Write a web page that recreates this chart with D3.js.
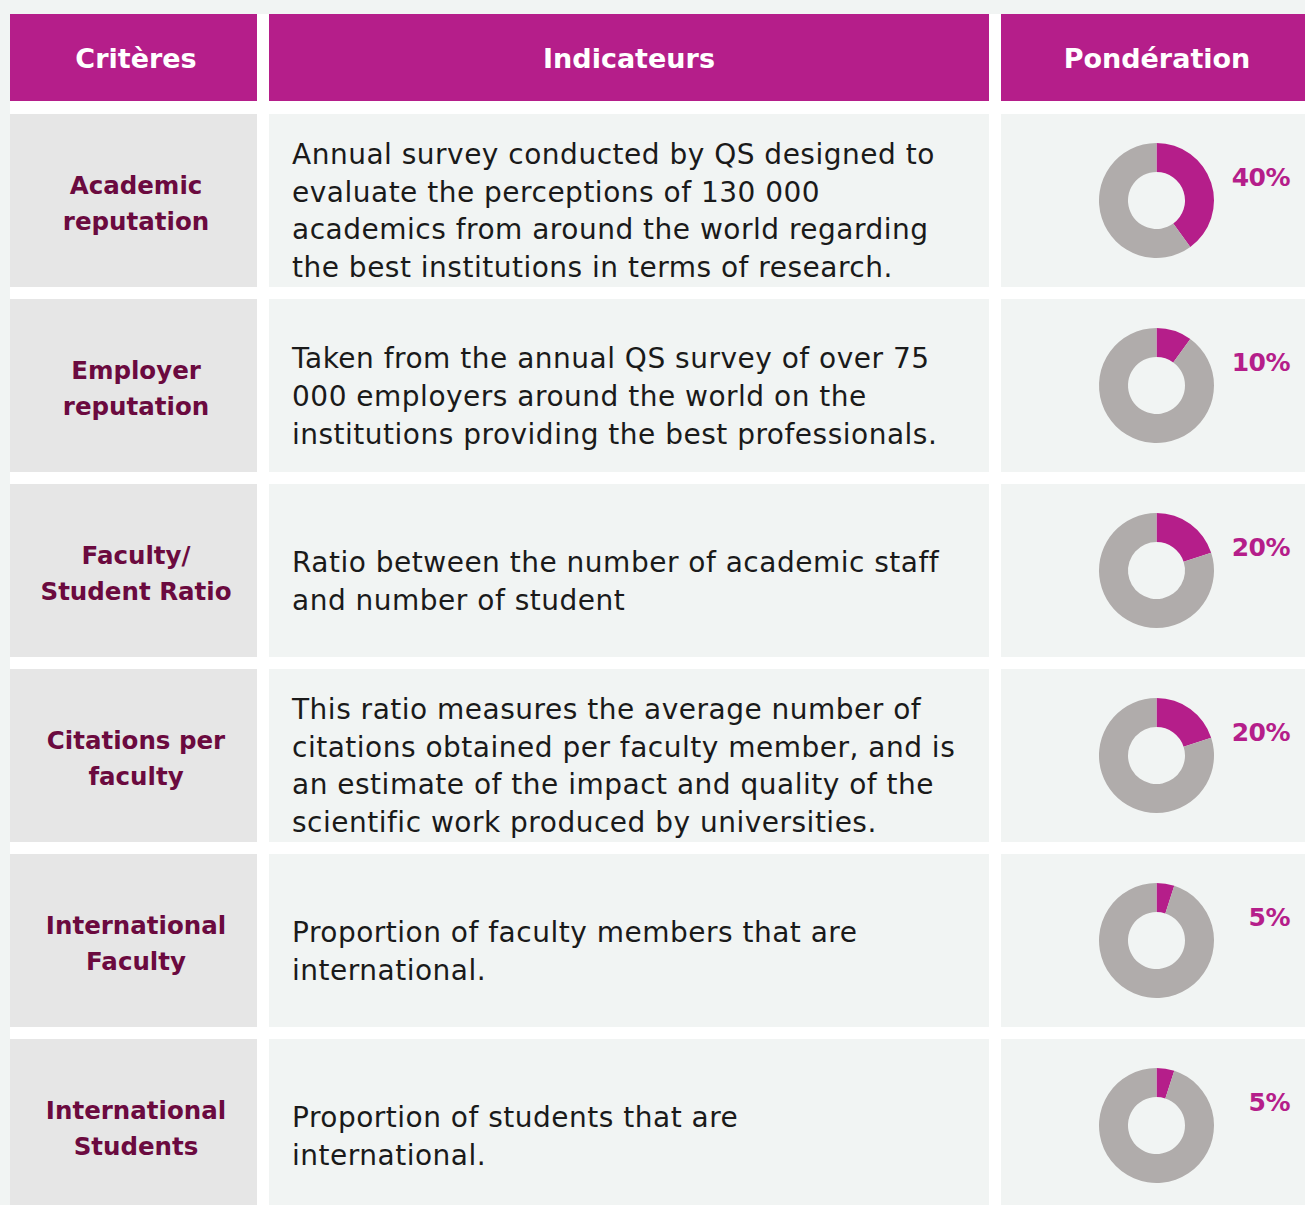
<!DOCTYPE html>
<html>
<head>
<meta charset="utf-8">
<script src="https://cdn.jsdelivr.net/npm/d3@7"></script>
<style>
  body { margin: 0; background: #f1f4f3; }
  svg { display: block; }
</style>
</head>
<body>
<svg id="chart" width="1305" height="1205"></svg>
<script>
// table content
const headers = ["Critères", "Indicateurs", "Pondération"];
const criteria = [
  ["Academic", "reputation"],
  ["Employer", "reputation"],
  ["Faculty/", "Student Ratio"],
  ["Citations per", "faculty"],
  ["International", "Faculty"],
  ["International", "Students"]
];
const indicators = [
  ["Annual survey conducted by QS designed to", "evaluate the perceptions of 130 000", "academics from around the world regarding", "the best institutions in terms of research."],
  ["Taken from the annual QS survey of over 75", "000 employers around the world on the", "institutions providing the best professionals."],
  ["Ratio between the number of academic staff", "and number of student"],
  ["This ratio measures the average number of", "citations obtained per faculty member, and is", "an estimate of the impact and quality of the", "scientific work produced by universities."],
  ["Proportion of faculty members that are", "international."],
  ["Proportion of students that are", "international."]
];
const weights = [40, 10, 20, 20, 5, 5];

const purple = "#b51e8a";
const maroon = "#6b0a3f";
const grey = "#b0acab";
const font = "'DejaVu Sans', sans-serif";

const svg = d3.select("#chart");

// white background of the table (the gaps between cells are white)
svg.append("rect")
  .attr("x", 10).attr("y", 14)
  .attr("width", 1295).attr("height", 1191)
  .attr("fill", "#ffffff");

// columns
const colX = [10, 269, 1001];
const colW = [247, 720, 312];
const textX = [136, 629, 1157];
const headerY = 14, headerH = 87;

// rows: 173px tall, 12px gap
const rowY = d3.scaleBand()
  .domain(d3.range(criteria.length))
  .range([114, 114 + 185 * criteria.length - 12])
  .paddingInner(12 / 185)
  .paddingOuter(0)
  .align(0);

// header
const head = svg.append("g");
head.selectAll("rect")
  .data(headers)
  .join("rect")
  .attr("x", (d, i) => colX[i])
  .attr("y", headerY)
  .attr("width", (d, i) => colW[i])
  .attr("height", headerH)
  .attr("fill", purple);

head.selectAll("text")
  .data(headers)
  .join("text")
  .attr("x", (d, i) => textX[i])
  .attr("y", headerY + headerH / 2 + 10)
  .attr("text-anchor", "middle")
  .attr("font-family", font)
  .attr("font-weight", "bold")
  .attr("font-size", 27)
  .attr("fill", "#ffffff")
  .text(d => d);

// body rows
const rows = svg.selectAll("g.row")
  .data(d3.range(criteria.length))
  .join("g")
  .attr("class", "row")
  .attr("transform", i => `translate(0,${rowY(i)})`);

const rh = rowY.bandwidth();

rows.append("rect")
  .attr("x", colX[0]).attr("width", colW[0]).attr("height", rh)
  .attr("fill", "#e6e6e6");
rows.append("rect")
  .attr("x", colX[1]).attr("width", colW[1]).attr("height", rh)
  .attr("fill", "#f1f4f3");
rows.append("rect")
  .attr("x", colX[2]).attr("width", colW[2]).attr("height", rh)
  .attr("fill", "#f1f4f3");

// criteria names
rows.append("text")
  .attr("font-family", font)
  .attr("font-weight", "bold")
  .attr("font-size", 24.5)
  .attr("fill", maroon)
  .attr("text-anchor", "middle")
  .each(function(i) {
    const lines = criteria[i];
    const lh = 36;
    const y0 = rh / 2 + 2 - (lines.length - 1) * lh / 2 + 9;
    d3.select(this).selectAll("tspan")
      .data(lines)
      .join("tspan")
      .attr("x", textX[0])
      .attr("y", (d, k) => y0 + k * lh)
      .text(d => d);
  });

// indicator descriptions
rows.append("text")
  .attr("font-family", font)
  .attr("font-size", 28)
  .attr("letter-spacing", 0.5)
  .attr("fill", "#1a1a1a")
  .each(function(i) {
    const lines = indicators[i];
    const lh = lines.length > 3 ? 37.5 : 38;
    const y0 = rh / 2 + 20 - (lines.length - 1) * lh / 2;
    d3.select(this).selectAll("tspan")
      .data(lines)
      .join("tspan")
      .attr("x", 292)
      .attr("y", (d, k) => y0 + k * lh)
      .text(d => d);
  });

// donuts
const pie = d3.pie().sort(null).value(d => d);
const arc = d3.arc().innerRadius(28.5).outerRadius(57.5);

rows.each(function(i) {
  const g = d3.select(this).append("g")
    .attr("transform", `translate(1156.5,${rh / 2})`);
  g.selectAll("path")
    .data(pie([weights[i], 100 - weights[i]]))
    .join("path")
    .attr("d", arc)
    .attr("fill", (d, k) => k === 0 ? purple : grey);
});

rows.append("text")
  .attr("x", 1290)
  .attr("y", 72)
  .attr("text-anchor", "end")
  .attr("font-family", font)
  .attr("font-weight", "bold")
  .attr("font-size", 25)
  .attr("letter-spacing", -0.5)
  .attr("fill", purple)
  .text(i => weights[i] + "%");
</script>
</body>
</html>
